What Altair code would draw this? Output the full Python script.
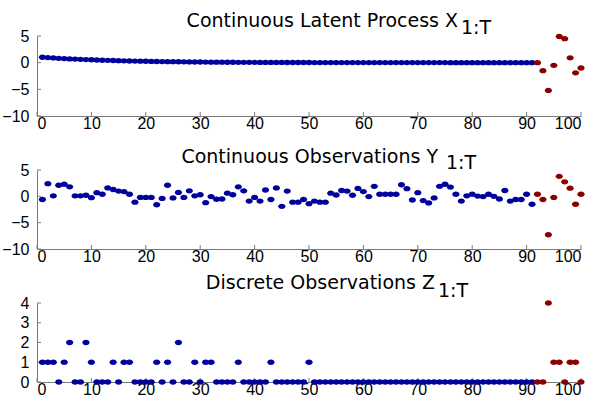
import altair as alt
import pandas as pd

# ---- data -------------------------------------------------------------
t_steps = list(range(1, 101))
split_t = 91  # last observed step; steps after it are forecasts

latent_x = [
    1.02, 0.95, 0.89, 0.82, 0.77, 0.71, 0.67, 0.62, 0.58, 0.54,
    0.50, 0.46, 0.43, 0.40, 0.37, 0.35, 0.32, 0.30, 0.28, 0.26,
    0.24, 0.22, 0.21, 0.19, 0.18, 0.17, 0.15, 0.14, 0.13, 0.12,
    0.11, 0.10, 0.10, 0.09, 0.08, 0.08, 0.07, 0.07, 0.06, 0.06,
    0.05, 0.05, 0.04, 0.04, 0.04, 0.03, 0.03, 0.03, 0.03, 0.03,
    0.02, 0.02, 0.02, 0.02, 0.02, 0.02, 0.02, 0.02, 0.02, 0.02,
    0.01, 0.01, 0.01, 0.01, 0.01, 0.01, 0.01, 0.01, 0.01, 0.01,
    0.01, 0.01, 0.01, 0.01, 0.01, 0.00, 0.00, 0.00, 0.00, 0.00,
    0.00, 0.00, 0.00, 0.00, 0.00, 0.00, 0.00, 0.00, 0.00, 0.00,
    0.00,
    0.0, -1.5, -5.2, -0.5, 4.9, 4.5, 0.9, -1.9, -1.0,
]

obs_y = [
    -0.6, 2.4, 0.1, 2.1, 2.3, 1.8, 0.1, 0.1, 0.2, -0.25,
    0.7, 0.4, 1.6, 1.3, 1.0, 0.9, 0.4, -1.1, -0.2, -0.2,
    -0.2, -1.6, -0.4, 2.1, -0.3, 0.75, -0.2, 1.05, 0.1, 0.3,
    -1.2, -0.05, -0.55, -0.5, 0.6, 0.3, 1.8, 1.05, -0.9, -0.2,
    -0.9, 1.2, -0.6, 1.6, -1.9, 1.0, -1.1, -1.1, -0.6, -1.4,
    -0.9, -1.1, -1.1, 0.6, 0.25, 1.1, 1.0, 0.2, 1.5, 0.9,
    -0.05, 1.9, 0.4, 0.4, 0.4, 0.4, 2.2, 1.45, -0.7, 0.7,
    -0.8, -1.25, -0.3, 1.9, 2.3, 1.75, 0.4, -0.9, 0.1, 0.4,
    0.05, -0.05, 0.4, 0.0, -0.5, 1.1, -0.9, -0.6, -0.6, 0.4,
    -1.5,
    0.4, -0.6, -7.3, -0.2, 3.8, 2.75, 1.55, -1.5, 0.4,
]

obs_z = [
    1, 1, 1, 0, 1, 2, 0, 0, 2, 1,
    0, 0, 0, 1, 0, 1, 1, 0, 0, 0,
    0, 1, 0, 1, 0, 2, 0, 0, 1, 0,
    1, 1, 0, 0, 0, 0, 1, 0, 0, 0,
    0, 0, 1, 0, 0, 0, 0, 0, 0, 1,
    0, 0, 0, 0, 0, 0, 0, 0, 0, 0,
    0, 0, 0, 0, 0, 0, 0, 0, 0, 0,
    0, 0, 0, 0, 0, 0, 0, 0, 0, 0,
    0, 0, 0, 0, 0, 0, 0, 0, 0, 0,
    0,
    0, 0, 4, 1, 1, 0, 1, 1, 0,
]

x_ticks = [0, 10, 20, 30, 40, 50, 60, 70, 80, 90, 100]
y_ticks_cont = [-10, -5, 0, 5]
y_ticks_disc = [0, 1, 2, 3, 4]

titles = [
    ("Continuous Latent Process X", "1:T"),
    ("Continuous Observations Y", "1:T"),
    ("Discrete Observations Z", "1:T"),
]

# ---- styling ----------------------------------------------------------
BLUE = "#00009c"
RED = "#8a0000"
AXIS_GRAY = "#7a7a7a"
TITLE_FONT = "DejaVu Sans"
LABEL_FONT = "Liberation Sans"
PANEL_W = 544
# slightly flattened dot marker
DOT = "M-1,0A1,0.74,0,1,0,1,0A1,0.74,0,1,0,-1,0Z"

df = pd.DataFrame({"t": t_steps, "X": latent_x, "Y": obs_y, "Z": obs_z})
df["phase"] = ["observed" if t <= split_t else "forecast" for t in t_steps]

color = alt.Color(
    "phase:N",
    scale=alt.Scale(domain=["observed", "forecast"], range=[BLUE, RED]),
    legend=None,
)

x_axis = alt.Axis(values=x_ticks, title=None, ticks=False, grid=False,
                  labelPadding=-1, domainColor=AXIS_GRAY)
x_scale = alt.Scale(domain=[0, 100], nice=False, zero=False)


def panel(field, ydomain, yticks, title, title_x, sub_x, base_y, sub_y, height):
    y_scale = alt.Scale(domain=ydomain, nice=False, zero=False)
    y_axis = alt.Axis(values=yticks, title=None, ticks=False, grid=False,
                      labelPadding=8, domainColor=AXIS_GRAY)

    points = alt.Chart(df).mark_point(
        shape=DOT, filled=True, size=52, opacity=1, strokeWidth=0
    ).encode(
        x=alt.X("t:Q", scale=x_scale, axis=x_axis),
        y=alt.Y(f"{field}:Q", scale=y_scale, axis=y_axis),
        color=color,
    )

    # inward-pointing tick marks on the bottom and left axes
    xt = alt.Chart(pd.DataFrame({"t": x_ticks})).mark_rule(
        color=AXIS_GRAY, strokeWidth=1
    ).encode(
        x=alt.X("t:Q", scale=x_scale, axis=x_axis),
        y=alt.value(height),
        y2=alt.value(height - 4),
    )
    yt = alt.Chart(pd.DataFrame({field: yticks})).mark_rule(
        color=AXIS_GRAY, strokeWidth=1
    ).encode(
        y=alt.Y(f"{field}:Q", scale=y_scale, axis=y_axis),
        x=alt.value(0),
        x2=alt.value(4),
    )

    one = pd.DataFrame({"k": [0]})
    main_txt = alt.Chart(one).mark_text(
        align="right", baseline="alphabetic", font=TITLE_FONT,
        fontSize=19, color="black",
    ).encode(x=alt.value(title_x), y=alt.value(base_y), text=alt.value(title[0]))
    sub_txt = alt.Chart(one).mark_text(
        align="left", baseline="alphabetic", font=TITLE_FONT,
        fontSize=19, color="black",
    ).encode(x=alt.value(sub_x), y=alt.value(sub_y), text=alt.value(title[1]))

    return alt.layer(xt, yt, points, main_txt, sub_txt).properties(
        width=PANEL_W, height=height
    )


p1 = panel("X", [-10, 5], y_ticks_cont, titles[0], 421, 424, -9, -2, 80)
p2 = panel("Y", [-10, 5], y_ticks_cont, titles[1], 401, 409, -7, -1, 79)
p3 = panel("Z", [0, 4], y_ticks_disc, titles[2], 398, 401, -14, -6, 79)

chart = alt.vconcat(p1, p2, p3, spacing=54, bounds="flush").properties(
    padding={"left": 1, "top": 12, "right": 0, "bottom": 0},
    background="white",
).configure_view(stroke=None).configure_axis(
    labelFont=LABEL_FONT, labelFontSize=16, labelColor="black",
)

chart.save("out.html", embed_options={"renderer": "svg", "actions": False})
